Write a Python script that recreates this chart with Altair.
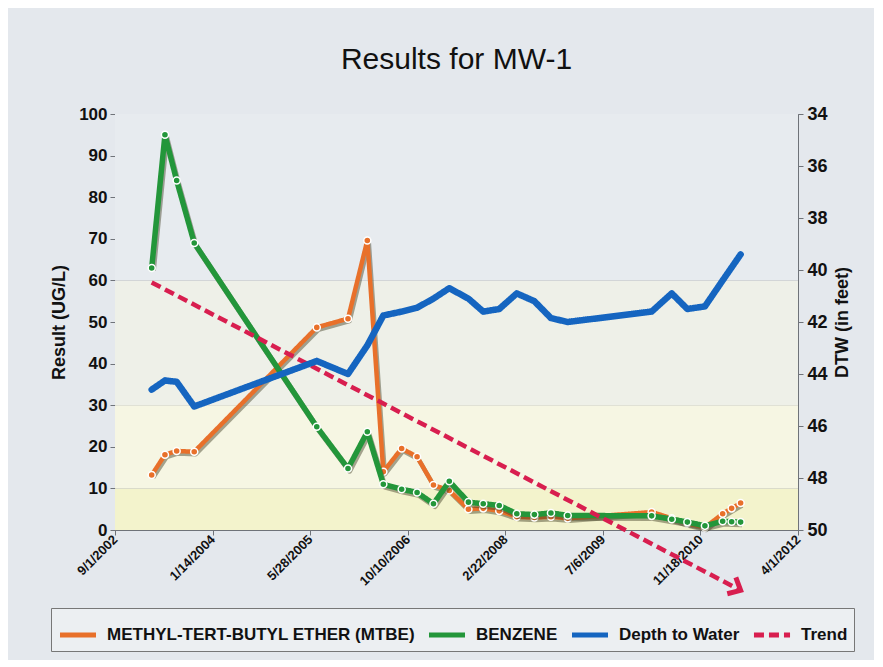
import math
import altair as alt
import pandas as pd

FONT = "Liberation Sans"

# ---------------- data ----------------
series_names = ["METHYL-TERT-BUTYL ETHER (MTBE)", "BENZENE", "Depth to Water", "Trend"]
series_colors = ["#e8702a", "#23963a", "#1565c0", "#d81e4f"]

sample_dates = [
    "2003-03-08", "2003-05-15", "2003-07-14", "2003-10-12", "2005-07-01",
    "2005-12-08", "2006-03-17", "2006-06-07", "2006-09-09", "2006-11-27",
    "2007-02-19", "2007-05-11", "2007-08-17", "2007-11-01", "2008-01-22",
    "2008-04-21", "2008-07-20", "2008-10-13", "2009-01-07", "2010-03-13",
    "2010-06-24", "2010-09-12", "2010-12-11", "2011-03-12", "2011-04-27",
    "2011-06-12",
]
mtbe_ugl = [13.2, 18.1, 19.0, 18.8, 48.7, 50.8, 69.6, 14.0, 19.6, 17.6,
            10.8, 9.5, 5.0, 5.2, 4.6, 3.2, 3.0, 3.2, 2.8, 4.3,
            2.8, 1.6, 0.6, 3.9, 5.2, 6.5]
benzene_ugl = [63.0, 95.0, 84.0, 69.0, 24.8, 14.8, 23.6, 11.0, 9.8, 9.0,
               6.3, 11.7, 6.7, 6.3, 5.9, 3.9, 3.7, 4.1, 3.5, 3.4,
               2.6, 1.9, 1.0, 2.1, 2.0, 1.9]
dtw_ft = [44.6, 44.25, 44.3, 45.25, 43.5, 44.0, 42.9, 41.75, 41.6, 41.45,
          41.1, 40.7, 41.1, 41.6, 41.5, 40.9, 41.2, 41.85, 42.0, 41.6,
          40.9, 41.5, 41.4, 40.4, 39.9, 39.4]

trend_dates = ["2003-03-08", "2011-06-12"]
trend_ugl = [59.5, -14.5]

x_tick_dates = ["2002-09-01", "2004-01-14", "2005-05-28", "2006-10-10",
                "2008-02-22", "2009-07-06", "2010-11-18", "2012-04-01"]
left_ticks = [0, 10, 20, 30, 40, 50, 60, 70, 80, 90, 100]
right_ticks = [34, 36, 38, 40, 42, 44, 46, 48, 50]

band_lo = [0, 10, 30, 60]
band_hi = [10, 30, 60, 100]
band_colors = ["#f3f3cc", "#f6f6e3", "#eef0e8", "#e7ebef"]

# ---------------- build tables ----------------
W, H = 683, 416


def ms(d):
    return int(pd.Timestamp(d, tz="UTC").value // 10**6)


x_ticks_ms = [ms(d) for d in x_tick_dates]
x_domain = [x_ticks_ms[0], x_ticks_ms[-1]]
t_ms = [ms(d) for d in sample_dates]

mtbe_df = pd.DataFrame({"t": t_ms, "v": mtbe_ugl, "series": series_names[0]})
benz_df = pd.DataFrame({"t": t_ms, "v": benzene_ugl, "series": series_names[1]})
dtw_df = pd.DataFrame({"t": t_ms, "ft": dtw_ft, "series": series_names[2]})
trend_df = pd.DataFrame({"t": [ms(d) for d in trend_dates], "v": trend_ugl,
                         "series": series_names[3]})
band_df = pd.DataFrame({"t0": x_domain[0], "t1": x_domain[1], "lo": band_lo,
                        "hi": band_hi, "c": band_colors})

# arrow direction in screen space
dx = W * (trend_df.t.iloc[1] - trend_df.t.iloc[0]) / (x_domain[1] - x_domain[0])
dy = H * (trend_df.v.iloc[0] - trend_df.v.iloc[1]) / 100.0
arrow_angle = math.degrees(math.atan2(dy, dx))
arrow_df = trend_df.iloc[[1]]

GRID = "#8a8f95"
AX = "#6f7379"

x_axis = alt.Axis(values=x_ticks_ms,
                  labelExpr="utcFormat(datum.value, '%-m/%-d/%Y')",
                  labelAngle=315, labelAlign="right", labelBaseline="middle",
                  labelFont=FONT, labelFontSize=13, labelFontWeight="bold",
                  labelColor="#111", labelPadding=2, grid=True, gridColor=GRID,
                  gridWidth=1, domainColor=AX, tickColor=AX, tickSize=5,
                  title=None, labelOverlap=False)
x_scale = alt.Scale(type="utc", domain=x_domain)


def X(field="t"):
    return alt.X(f"{field}:T", scale=x_scale, axis=x_axis)


y_axis = alt.Axis(values=left_ticks, title="Result (UG/L)", grid=True,
                  gridColor=GRID, gridWidth=1, domainColor=AX, tickColor=AX,
                  tickSize=5, labelFont=FONT, labelFontSize=17,
                  labelFontWeight="bold", labelColor="#111", labelPadding=3,
                  titleFont=FONT, titleFontSize=18, titleFontWeight="bold",
                  titleColor="#111", titlePadding=10)
y_scale = alt.Scale(domain=[0, 100], nice=False, zero=False)


def Y(field="v"):
    return alt.Y(f"{field}:Q", scale=y_scale, axis=y_axis)


color_scale = alt.Scale(domain=series_names, range=series_colors)
dash_scale = alt.Scale(domain=series_names,
                       range=[[1, 0], [1, 0], [1, 0], [10, 5]])
leg = alt.Legend(title=None)
color_enc = alt.Color("series:N", scale=color_scale, legend=leg)
dash_enc = alt.StrokeDash("series:N", scale=dash_scale, legend=leg)

bands = alt.Chart(band_df).mark_rect().encode(
    x=X("t0"), x2="t1:T", y=Y("lo"), y2="hi:Q",
    fill=alt.Fill("c:N", scale=None, legend=None))


def series_layers(df, width):
    shadow = alt.Chart(df).mark_line(color="#3e3b22", opacity=0.45,
                                     strokeWidth=width, strokeJoin="round",
                                     xOffset=1.5, yOffset=2.5).encode(x=X(), y=Y())
    line = alt.Chart(df).mark_line(strokeWidth=width, strokeJoin="round",
                                   strokeCap="round").encode(
        x=X(), y=Y(), color=color_enc, strokeDash=dash_enc)
    return shadow, line


mtbe_shadow, mtbe_line = series_layers(mtbe_df, 4.5)
benz_shadow, benz_line = series_layers(benz_df, 5.5)

mtbe_pts = alt.Chart(mtbe_df).mark_point(filled=True, fill=series_colors[0],
                                         stroke="white", strokeWidth=1.5,
                                         size=50, opacity=1).encode(x=X(), y=Y())
benz_pts = alt.Chart(benz_df).mark_point(filled=True, fill=series_colors[1],
                                         stroke="white", strokeWidth=1.5,
                                         size=50, opacity=1).encode(x=X(), y=Y())

trend_line = alt.Chart(trend_df).mark_line(strokeWidth=4.5).encode(
    x=X(), y=Y(), color=color_enc, strokeDash=dash_enc)
arrow = alt.Chart(arrow_df).mark_point(
    shape="M-1,-0.9L0,0L-1,0.9", filled=False, stroke=series_colors[3],
    strokeWidth=5, size=420, angle=round(arrow_angle, 1), opacity=1,
    strokeJoin="miter").encode(x=X(), y=Y())

left = alt.layer(bands, mtbe_shadow, mtbe_line, mtbe_pts, benz_shadow,
                 benz_line, benz_pts, trend_line, arrow)

dtw_line = alt.Chart(dtw_df).mark_line(strokeWidth=6.5, strokeJoin="round",
                                       strokeCap="round").encode(
    x=X(),
    y=alt.Y("ft:Q",
            scale=alt.Scale(domain=[34, 50], reverse=True, nice=False, zero=False),
            axis=alt.Axis(orient="right", values=right_ticks, title="DTW (in feet)",
                          grid=False, domainColor=AX, tickColor=AX, tickSize=5,
                          labelFont=FONT, labelFontSize=18, labelFontWeight="bold",
                          labelColor="#111", labelPadding=4, titleFont=FONT,
                          titleFontSize=18, titleFontWeight="bold",
                          titleColor="#111", titleAngle=270, titlePadding=24)),
    color=color_enc, strokeDash=dash_enc)

chart = alt.layer(left, dtw_line).resolve_scale(y="independent").properties(
    width=W, height=H,
    title=alt.TitleParams("Results for MW-1", font=FONT, fontSize=30,
                          fontWeight="normal", color="#111", anchor="middle",
                          offset=30),
    autosize=alt.AutoSizeParams(type="none"),
    padding={"left": 107, "top": 106, "right": 76, "bottom": 130},
    background="#e4e8ed",
).configure_view(strokeWidth=0).configure_legend(
    orient="none", legendX=-64, legendY=494, direction="horizontal",
    symbolType="stroke", symbolStrokeWidth=5, symbolSize=1300,
    labelFont=FONT, labelFontSize=17, labelFontWeight="bold", labelColor="#111",
    labelLimit=500, labelOffset=8, columnPadding=3, padding=6,
    strokeColor="#777", fillColor="#eceff2", cornerRadius=0,
)

chart.save("out.html", embed_options={"renderer": "svg", "actions": False})
